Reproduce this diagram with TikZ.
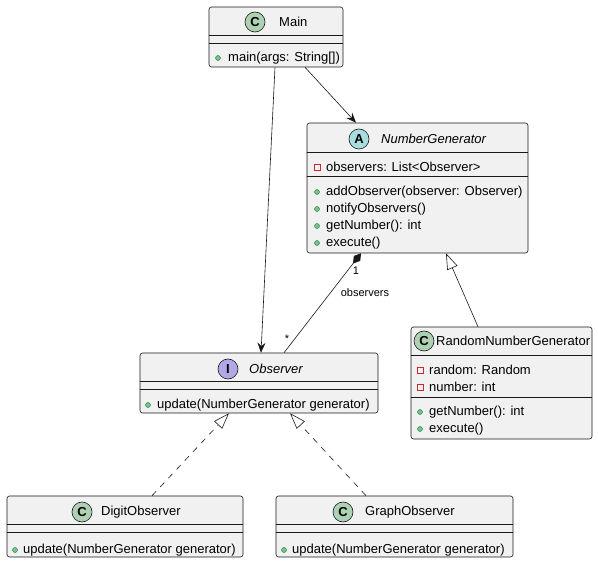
\documentclass[tikz,border=0pt]{standalone}
\usepackage{fontspec}
\setmainfont{Liberation Sans}
\usepackage{xcolor}
\usepackage{tikz}
\usetikzlibrary{arrows.meta,positioning}

\definecolor{boxfill}{HTML}{F1F1F1}
\definecolor{umlline}{HTML}{181818}
\definecolor{cgreen}{HTML}{ADD1B2}
\definecolor{ablue}{HTML}{A9DCDF}
\definecolor{ipurple}{HTML}{B4A7E5}
\definecolor{pubfill}{HTML}{84BE84}
\definecolor{publine}{HTML}{038048}
\definecolor{privline}{HTML}{C82930}

\begin{document}
\begin{tikzpicture}[
    x=1pt, y=-1pt,
    classbox/.style={rectangle, draw=umlline, fill=boxfill, rounded corners=2.5pt, line width=0.6pt, inner sep=0pt},
    sep/.style={draw=umlline, line width=0.6pt},
    badge/.style={circle, draw=umlline, line width=0.6pt, minimum size=20pt, inner sep=0pt, font=\fontsize{13}{13}\selectfont\bfseries},
    title/.style={anchor=west, inner sep=0pt, font=\fontsize{13}{15}\selectfont},
    member/.style={anchor=west, inner sep=0pt, font=\fontsize{13}{15}\selectfont},
    pub/.style={circle, draw=publine, fill=pubfill, minimum size=5pt, inner sep=0pt, line width=0.4pt},
    priv/.style={rectangle, draw=privline, minimum size=6pt, inner sep=0pt, line width=0.7pt},
    lbl/.style={inner sep=0pt, font=\fontsize{11}{13}\selectfont},
    arrow/.style={-{Stealth[length=10pt, width=8pt, inset=3.5pt]}, draw=umlline, line width=0.6pt},
    compose/.style={{Diamond[length=13pt, width=8pt]}-, draw=umlline, line width=0.6pt},
    extends/.style={-{Triangle[open, length=16pt, width=11pt]}, draw=umlline, line width=0.6pt},
    realizes/.style={extends, dash pattern=on 6pt off 6pt}
]
    \useasboundingbox (0,0) rectangle (598,564);

    % Main
    \node[classbox, minimum width=134pt, minimum height=60pt] (main) at (276, 37) {};
    \draw[sep] ([yshift=-29pt]main.north west) -- ([yshift=-29pt]main.north east);
    \draw[sep] ([yshift=-37pt]main.north west) -- ([yshift=-37pt]main.north east);
    \node[badge, fill=cgreen] (mainc) at (255, 22) {C};
    \node[title] (mainname) at (279, 22) {Main};
    \node[pub] (mainp1) at (218, 58) {};
    \node[member] (mainm1) at (228, 58) {main(args: String[])};

    % NumberGenerator
    \node[classbox, minimum width=221pt, minimum height=130pt] (ng) at (417.5, 188) {};
    \draw[sep] ([yshift=-30pt]ng.north west) -- ([yshift=-30pt]ng.north east);
    \draw[sep] ([yshift=-54pt]ng.north west) -- ([yshift=-54pt]ng.north east);
    \node[badge, fill=ablue] (ngc) at (359, 139) {A};
    \node[title, font=\fontsize{13}{15}\selectfont\itshape] (ngname) at (381, 139) {NumberGenerator};
    \node[priv] (ngf1) at (317, 167) {};
    \node[member] (ngt1) at (326, 167) {observers: List<Observer>};
    \node[pub] (ngp1) at (317, 192) {};
    \node[member] (ngm1) at (326, 192) {addObserver(observer: Observer)};
    \node[pub] (ngp2) at (317, 209) {};
    \node[member] (ngm2) at (326, 209) {notifyObservers()};
    \node[pub] (ngp3) at (317, 226) {};
    \node[member] (ngm3) at (326, 226) {getNumber(): int};
    \node[pub] (ngp4) at (317, 243) {};
    \node[member] (ngm4) at (326, 243) {execute()};

    % Observer
    \node[classbox, minimum width=238pt, minimum height=60pt] (obs) at (259, 383) {};
    \draw[sep] ([yshift=-29pt]obs.north west) -- ([yshift=-29pt]obs.north east);
    \draw[sep] ([yshift=-37pt]obs.north west) -- ([yshift=-37pt]obs.north east);
    \node[badge, fill=ipurple] (obsc) at (228, 369) {I};
    \node[title, font=\fontsize{13}{15}\selectfont\itshape] (obsname) at (249, 369) {Observer};
    \node[pub] (obsp1) at (148, 405) {};
    \node[member] (obsm1) at (157, 405) {update(NumberGenerator generator)};

    % RandomNumberGenerator
    \node[classbox, minimum width=181pt, minimum height=112pt] (rng) at (501.5, 383) {};
    \draw[sep] ([yshift=-29pt]rng.north west) -- ([yshift=-29pt]rng.north east);
    \draw[sep] ([yshift=-71pt]rng.north west) -- ([yshift=-71pt]rng.north east);
    \node[badge, fill=cgreen] (rngc) at (424, 341) {C};
    \node[title] (rngname) at (436, 341) {RandomNumberGenerator};
    \node[priv] (rngf1) at (420, 370) {};
    \node[member] (rngt1) at (429, 370) {random: Random};
    \node[priv] (rngf2) at (420, 387) {};
    \node[member] (rngt2) at (429, 387) {number: int};
    \node[pub] (rngp1) at (420, 412) {};
    \node[member] (rngm1) at (429, 412) {getNumber(): int};
    \node[pub] (rngp2) at (420, 429) {};
    \node[member] (rngm2) at (429, 429) {execute()};

    % DigitObserver
    \node[classbox, minimum width=236pt, minimum height=61pt] (digit) at (125, 526.5) {};
    \draw[sep] ([yshift=-29pt]digit.north west) -- ([yshift=-29pt]digit.north east);
    \draw[sep] ([yshift=-37pt]digit.north west) -- ([yshift=-37pt]digit.north east);
    \node[badge, fill=cgreen] (digitc) at (82, 512) {C};
    \node[title] (digitname) at (101, 512) {DigitObserver};
    \node[pub] (digitp1) at (15, 550) {};
    \node[member] (digitm1) at (23, 550) {update(NumberGenerator generator)};

    % GraphObserver
    \node[classbox, minimum width=237pt, minimum height=61pt] (graph) at (394.5, 526.5) {};
    \draw[sep] ([yshift=-29pt]graph.north west) -- ([yshift=-29pt]graph.north east);
    \draw[sep] ([yshift=-37pt]graph.north west) -- ([yshift=-37pt]graph.north east);
    \node[badge, fill=cgreen] (graphc) at (343, 512) {C};
    \node[title] (graphname) at (365, 512) {GraphObserver};
    \node[pub] (graphp1) at (284, 550) {};
    \node[member] (graphm1) at (292, 550) {update(NumberGenerator generator)};

    % Arrows
    \draw[arrow] ([xshift=29pt]main.south) -- ([xshift=-61.5pt]ng.north);
    \draw[arrow] ([xshift=-1pt]main.south) -- ([xshift=2pt]obs.north);
    \draw[compose] ([xshift=-56.5pt]ng.south) -- ([xshift=25pt]obs.north);
    \draw[extends] ([xshift=-23.5pt]rng.north) -- ([xshift=28.5pt]ng.south);
    \draw[realizes] ([xshift=27pt]digit.north) -- ([xshift=-30pt]obs.south);
    \draw[realizes] ([xshift=-28.5pt]graph.north) -- ([xshift=31pt]obs.south);

    % Association labels
    \node[lbl] (mult1) at (356, 271) {1};
    \node[lbl] (rolelbl) at (365, 293) {observers};
    \node[lbl] (multstar) at (287, 339) {*};

\end{tikzpicture}
\end{document}
